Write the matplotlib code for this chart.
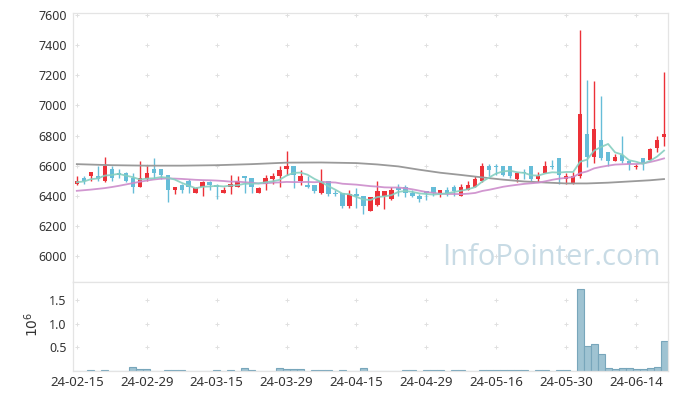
import matplotlib
matplotlib.use('Agg')
import matplotlib.pyplot as plt
import numpy as np

plt.rcParams['font.family'] = ['Noto Sans', 'DejaVu Sans']

# 거래일 (24-02-15 ~ 24-06-20)
dates = ['24-02-15', '24-02-16', '24-02-19', '24-02-20', '24-02-21', '24-02-22', '24-02-23',
         '24-02-26', '24-02-27', '24-02-28', '24-02-29', '24-03-04', '24-03-05', '24-03-06',
         '24-03-07', '24-03-08', '24-03-11', '24-03-12', '24-03-13', '24-03-14', '24-03-15',
         '24-03-18', '24-03-19', '24-03-20', '24-03-21', '24-03-22', '24-03-25', '24-03-26',
         '24-03-27', '24-03-28', '24-03-29', '24-04-01', '24-04-02', '24-04-03', '24-04-04',
         '24-04-05', '24-04-08', '24-04-09', '24-04-11', '24-04-12', '24-04-15', '24-04-16',
         '24-04-17', '24-04-18', '24-04-19', '24-04-22', '24-04-23', '24-04-24', '24-04-25',
         '24-04-26', '24-04-29', '24-04-30', '24-05-02', '24-05-03', '24-05-07', '24-05-08',
         '24-05-09', '24-05-10', '24-05-13', '24-05-14', '24-05-16', '24-05-17', '24-05-20',
         '24-05-21', '24-05-22', '24-05-23', '24-05-24', '24-05-27', '24-05-28', '24-05-29',
         '24-05-30', '24-05-31', '24-06-03', '24-06-04', '24-06-05', '24-06-07', '24-06-10',
         '24-06-11', '24-06-12', '24-06-13', '24-06-14', '24-06-17', '24-06-18', '24-06-19',
         '24-06-20']

opens = [6480, 6520, 6530, 6530, 6500, 6580, 6550, 6550, 6520, 6460,
         6510, 6580, 6580, 6540, 6440, 6470, 6500, 6420, 6460, 6490,
         6470, 6420, 6460, 6460, 6530, 6520, 6420, 6480, 6510, 6530,
         6580, 6600, 6500, 6470, 6470, 6420, 6500, 6420, 6420, 6330,
         6410, 6400, 6300, 6340, 6400, 6380, 6450, 6460, 6420, 6400,
         6430, 6460, 6420, 6440, 6460, 6400, 6440, 6460, 6500, 6600,
         6600, 6600, 6600, 6510, 6560, 6600, 6510, 6550, 6600, 6650,
         6510, 6480, 6530, 6810, 6660, 6770, 6690, 6630, 6670, 6630,
         6590, 6650, 6640, 6720, 6790]
highs = [6530, 6530, 6560, 6600, 6660, 6600, 6580, 6560, 6550, 6630,
         6600, 6650, 6580, 6540, 6460, 6480, 6510, 6460, 6500, 6500,
         6480, 6460, 6540, 6530, 6530, 6520, 6460, 6540, 6550, 6600,
         6700, 6600, 6570, 6530, 6470, 6580, 6500, 6440, 6420, 6440,
         6450, 6400, 6390, 6500, 6430, 6460, 6480, 6470, 6440, 6410,
         6430, 6460, 6440, 6460, 6470, 6480, 6500, 6530, 6620, 6610,
         6610, 6600, 6600, 6560, 6580, 6600, 6560, 6630, 6640, 6650,
         6550, 6560, 7500, 7170, 7160, 7060, 6690, 6680, 6800, 6630,
         6610, 6650, 6720, 6800, 7220]
lows = [6470, 6480, 6500, 6500, 6490, 6500, 6520, 6490, 6420, 6460,
        6500, 6520, 6510, 6360, 6410, 6420, 6420, 6420, 6400, 6440,
        6380, 6420, 6410, 6460, 6420, 6420, 6420, 6440, 6480, 6460,
        6540, 6450, 6470, 6450, 6420, 6410, 6400, 6400, 6320, 6320,
        6320, 6280, 6300, 6330, 6310, 6370, 6400, 6390, 6390, 6360,
        6370, 6400, 6390, 6400, 6400, 6400, 6440, 6460, 6490, 6530,
        6540, 6530, 6520, 6490, 6510, 6500, 6490, 6550, 6580, 6480,
        6480, 6480, 6520, 6590, 6620, 6640, 6600, 6630, 6620, 6570,
        6580, 6570, 6640, 6690, 6730]
closes = [6500, 6500, 6560, 6510, 6600, 6520, 6540, 6500, 6460, 6520,
          6550, 6550, 6540, 6440, 6460, 6440, 6460, 6450, 6490, 6470,
          6460, 6440, 6480, 6500, 6520, 6460, 6450, 6520, 6530, 6570,
          6600, 6540, 6530, 6460, 6430, 6490, 6410, 6410, 6330, 6410,
          6400, 6330, 6390, 6430, 6430, 6440, 6440, 6420, 6400, 6380,
          6420, 6420, 6440, 6420, 6430, 6460, 6470, 6510, 6600, 6570,
          6590, 6540, 6530, 6550, 6550, 6510, 6530, 6600, 6590, 6540,
          6530, 6530, 6940, 6660, 6840, 6650, 6630, 6660, 6630, 6610,
          6600, 6610, 6710, 6770, 6810]

volumes = [3000, 3000, 20000, 3000, 20000, 3000, 3000, 3000, 80000, 30000,
           30000, 3000, 3000, 20000, 20000, 20000, 3000, 3000, 3000, 3000,
           20000, 3000, 20000, 3000, 50000, 20000, 3000, 3000, 3000, 50000,
           30000, 30000, 30000, 3000, 20000, 20000, 20000, 3000, 20000, 3000,
           3000, 50000, 3000, 3000, 3000, 3000, 3000, 20000, 20000, 3000,
           20000, 20000, 20000, 3000, 20000, 20000, 3000, 3000, 20000, 20000,
           20000, 20000, 20000, 20000, 20000, 3000, 20000, 20000, 3000, 20000,
           20000, 3000, 1750000, 530000, 570000, 360000, 50000, 30000, 50000, 50000,
           30000, 30000, 50000, 90000, 630000]

# 이동평균선
ma5 = [6490, 6495, 6510, 6515, 6534, 6538, 6546, 6534, 6524, 6508,
       6514, 6516, 6524, 6520, 6508, 6486, 6468, 6450, 6460, 6462,
       6466, 6462, 6468, 6470, 6480, 6480, 6482, 6490, 6496, 6506,
       6534, 6552, 6554, 6540, 6512, 6490, 6464, 6440, 6414, 6410,
       6392, 6376, 6372, 6392, 6396, 6404, 6426, 6432, 6426, 6416,
       6412, 6408, 6412, 6416, 6426, 6434, 6444, 6458, 6494, 6522,
       6548, 6562, 6566, 6556, 6552, 6536, 6534, 6548, 6556, 6554,
       6558, 6558, 6626, 6640, 6700, 6724, 6744, 6688, 6674, 6636,
       6626, 6612, 6632, 6660, 6700]
ma20 = [6433, 6437, 6441, 6446, 6451, 6458, 6466, 6475, 6484, 6493,
        6501, 6508, 6513, 6515, 6514, 6512, 6509, 6506, 6504, 6503,
        6501, 6498, 6494, 6494, 6490, 6487, 6482, 6483, 6487, 6489,
        6492, 6491, 6491, 6492, 6490, 6493, 6490, 6488, 6480, 6477,
        6474, 6469, 6464, 6461, 6456, 6455, 6455, 6450, 6443, 6434,
        6425, 6419, 6414, 6412, 6412, 6411, 6414, 6419, 6432, 6440,
        6450, 6460, 6467, 6473, 6479, 6483, 6487, 6496, 6506, 6514,
        6519, 6525, 6550, 6562, 6582, 6592, 6600, 6607, 6609, 6611,
        6611, 6615, 6624, 6635, 6648]
ma_long_idx = [0, 5, 10, 15, 20, 25, 30, 35, 40, 43, 46, 49, 52, 55, 58,
               61, 64, 67, 70, 73, 76, 79, 82, 84]
ma_long = [6610, 6603, 6600, 6600, 6603, 6610, 6620, 6621, 6617, 6608, 6595,
           6573, 6553, 6538, 6522, 6507, 6495, 6488, 6482, 6482, 6487, 6495,
           6503, 6511]

price_ticks = [6000, 6200, 6400, 6600, 6800, 7000, 7200, 7400, 7600]
vol_ticks = [0.5e6, 1.0e6, 1.5e6]

UP = '#ec3138'
DOWN = '#66bdd8'
GRID = '#e0e0e0'
SPINE = '#e4e4e4'
TXT = '#333333'

fig = plt.figure(figsize=(6.77, 3.99), dpi=100)
ax = fig.add_axes([0.1083, 0.294, 0.8777, 0.6727])
axv = fig.add_axes([0.1083, 0.0707, 0.8777, 0.2233], sharex=ax)

x = np.arange(len(dates))
o = np.array(opens)
c = np.array(closes)
colors = [UP if cc > oo else DOWN for oo, cc in zip(o, c)]
body_lo = np.minimum(o, c)
body_h = np.maximum(np.abs(c - o), 5)

tick_pos = x[::10]

# 격자 대신 + 표시
for yy in price_ticks:
    ax.plot(tick_pos, [yy] * len(tick_pos), linestyle='none', marker='+',
            ms=3.5, mew=0.7, color=GRID, zorder=0)
for yy in vol_ticks:
    axv.plot(tick_pos, [yy] * len(tick_pos), linestyle='none', marker='+',
             ms=3.5, mew=0.7, color=GRID, zorder=0)

ax.vlines(x, lows, highs, colors=colors, lw=1.0, zorder=2)
ax.bar(x, body_h, bottom=body_lo, width=0.62, color=colors, zorder=3)

ax.plot(ma_long_idx, ma_long, color='#9a9a9a', lw=1.3, zorder=4)
ax.plot(x, ma20, color='#cc8ccb', lw=1.3, alpha=0.9, zorder=4)
ax.plot(x, ma5, color='#86cfc0', lw=1.3, alpha=0.9, zorder=5)

ax.text(0.804, 0.092, 'InfoPointer.com', transform=ax.transAxes, ha='center',
        va='center', fontsize=21, color='#c8dbe5', zorder=1,
        family=['Open Sans', 'DejaVu Sans'])

ax.set_xlim(-0.5, 84.5)
ax.set_ylim(5830, 7611)
ax.set_yticks(price_ticks)
ax.tick_params(axis='y', length=0, labelsize=9, colors=TXT, pad=4.8)
ax.tick_params(axis='x', length=0, labelbottom=False)

axv.bar(x, volumes, width=1.0, color='#9fc3d2', edgecolor='#78a6bb', lw=0.8)
axv.set_ylim(0, 1.9e6)
axv.set_yticks(vol_ticks)
axv.set_yticklabels(['0.5', '1.0', '1.5'])
axv.set_xticks(tick_pos)
axv.set_xticklabels(dates[::10])
axv.tick_params(axis='y', length=0, labelsize=9, colors=TXT, pad=4.8)
axv.tick_params(axis='x', length=0, labelsize=9.5, colors=TXT, pad=4)

for a in (ax, axv):
    for s in a.spines.values():
        s.set_color(SPINE)
        s.set_linewidth(0.9)

fig.text(33 / 677, 1 - 324 / 399, r'$10^6$', rotation=90, ha='center',
         va='center', fontsize=10, color=TXT)

fig.savefig('out.png', dpi=100)
